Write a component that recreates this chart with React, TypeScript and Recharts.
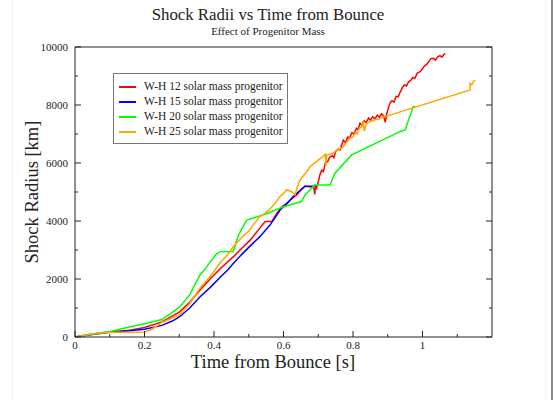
import { LineChart, Line, XAxis, YAxis, Legend } from "recharts";

// shock radius [km] vs time after bounce [s], one list of (t, r) pairs per progenitor
const wh12: [number, number][] = [
  [0, 0], [0.05, 100], [0.1, 170], [0.15, 220], [0.2, 330], [0.25, 520], [0.3, 860],
  [0.33, 1200], [0.36, 1620], [0.39, 2020], [0.42, 2380], [0.456, 2770], [0.48, 3060],
  [0.504, 3340], [0.525, 3650], [0.547, 3980], [0.566, 3980], [0.58, 4250], [0.595, 4490],
  [0.61, 4620], [0.625, 4780], [0.638, 4900], [0.65, 5080], [0.662, 5200], [0.675, 5180],
  [0.685, 5170], [0.688, 5100], [0.69, 4920], [0.692, 5200], [0.695, 5130], [0.7, 5350],
  [0.705, 5600], [0.71, 5750], [0.715, 5700], [0.72, 5990], [0.727, 6050], [0.733, 6200],
  [0.74, 6250], [0.745, 6180], [0.75, 6400], [0.757, 6480], [0.763, 6450], [0.772, 6790],
  [0.778, 6700], [0.785, 6900], [0.79, 6850], [0.797, 7050], [0.803, 7000], [0.81, 7200],
  [0.815, 7150], [0.82, 7370], [0.826, 7300], [0.832, 7450], [0.838, 7400], [0.845, 7550],
  [0.85, 7480], [0.857, 7600], [0.863, 7520], [0.87, 7650], [0.876, 7580], [0.882, 7700],
  [0.888, 7620], [0.893, 7400], [0.897, 7700], [0.902, 7900], [0.906, 8060], [0.912, 8150],
  [0.918, 8100], [0.924, 8300], [0.93, 8280], [0.936, 8450], [0.942, 8600], [0.948, 8700],
  [0.954, 8650], [0.96, 8800], [0.966, 8850], [0.972, 8950], [0.978, 8920], [0.985, 9100],
  [0.993, 9150], [1.0, 9250], [1.006, 9350], [1.012, 9400], [1.018, 9500], [1.024, 9600],
  [1.031, 9610], [1.037, 9550], [1.043, 9650], [1.05, 9700], [1.056, 9650], [1.062, 9750],
  [1.065, 9780],
];

const wh15: [number, number][] = [
  [0, 0], [0.05, 90], [0.1, 160], [0.15, 210], [0.2, 265], [0.25, 400], [0.28, 550],
  [0.3, 690], [0.33, 1000], [0.36, 1390], [0.39, 1720], [0.417, 2050], [0.44, 2320],
  [0.456, 2540], [0.48, 2850], [0.505, 3150], [0.532, 3460], [0.561, 3860], [0.575, 4100],
  [0.59, 4380], [0.61, 4600], [0.628, 4840], [0.645, 5020], [0.662, 5200], [0.69, 5200],
];

const wh20: [number, number][] = [
  [0, 0], [0.05, 100], [0.1, 190], [0.15, 330], [0.2, 460], [0.25, 600], [0.27, 760],
  [0.3, 1020], [0.33, 1450], [0.36, 2150], [0.375, 2350], [0.39, 2600], [0.408, 2880],
  [0.42, 2950], [0.455, 2940], [0.47, 3500], [0.494, 4030], [0.55, 4250], [0.6, 4490],
  [0.652, 4670], [0.662, 4900], [0.69, 5240], [0.734, 5240], [0.748, 5650], [0.796, 6280],
  [0.935, 7080], [0.95, 7140], [0.973, 7940], [0.978, 7960],
];

const wh25: [number, number][] = [
  [0, 0], [0.05, 100], [0.1, 160], [0.15, 165], [0.2, 175], [0.22, 260], [0.25, 500],
  [0.3, 760], [0.33, 1150], [0.36, 1690], [0.39, 2100], [0.417, 2550], [0.44, 2850],
  [0.455, 3110], [0.47, 3300], [0.485, 3500], [0.5, 3650], [0.515, 3900], [0.532, 4150],
  [0.545, 4250], [0.56, 4400], [0.575, 4600], [0.59, 4850], [0.6, 4950], [0.609, 5070],
  [0.615, 5050], [0.625, 5000], [0.633, 4900], [0.638, 5100], [0.643, 5300], [0.65, 5450],
  [0.66, 5600], [0.667, 5700], [0.676, 5870], [0.685, 5950], [0.695, 6050], [0.705, 6150],
  [0.712, 6200], [0.72, 6300], [0.722, 5900], [0.724, 6280], [0.735, 6300], [0.745, 6350],
  [0.755, 6450], [0.765, 6500], [0.772, 6560], [0.78, 6700], [0.79, 6850], [0.8, 6900],
  [0.807, 7050], [0.812, 7000], [0.818, 7200], [0.825, 7250], [0.829, 7450], [0.832, 7100],
  [0.838, 7350], [0.845, 7400], [0.855, 7450], [0.865, 7500], [0.875, 7520], [0.885, 7580],
  [0.892, 7600], [1.137, 8520], [1.137, 8750], [1.142, 8700], [1.146, 8800], [1.151, 8860],
];

const SERIES = [
  { name: "W-H 12 solar mass progenitor", color: "#ff0000", points: wh12 },
  { name: "W-H 15 solar mass progenitor", color: "#0000ff", points: wh15 },
  { name: "W-H 20 solar mass progenitor", color: "#00ff00", points: wh20 },
  { name: "W-H 25 solar mass progenitor", color: "#ffa500", points: wh25 },
];

const X_TICKS = [0, 0.1, 0.2, 0.3, 0.4, 0.5, 0.6, 0.7, 0.8, 0.9, 1.0, 1.1];
const Y_TICKS = [0, 1000, 2000, 3000, 4000, 5000, 6000, 7000, 8000, 9000, 10000];

const FONT = "'Liberation Serif', 'DejaVu Serif', serif";
const FRAME = "#222";

const xMajor = (v: number) => Math.round(v * 10) % 2 === 0;
const yMajor = (v: number) => Math.round(v / 1000) % 2 === 0;
const fmtX = (v: number) => (Math.abs(v - Math.round(v)) < 1e-9 ? String(Math.round(v)) : v.toFixed(1));

// xmgrace-style inward ticks, long for major, short for minor
function BottomTick({ x, y, payload }: any) {
  const major = xMajor(payload.value);
  return (
    <g>
      <line x1={x} y1={y} x2={x} y2={y - (major ? 6 : 3)} stroke={FRAME} />
      {major && (
        <text x={x} y={y + 12} textAnchor="middle" fontSize={11} fontFamily={FONT} fill="#222">
          {fmtX(payload.value)}
        </text>
      )}
    </g>
  );
}

function TopTick({ x, y, payload }: any) {
  const major = xMajor(payload.value);
  return <line x1={x} y1={y} x2={x} y2={y + (major ? 6 : 3)} stroke={FRAME} />;
}

function LeftTick({ x, y, payload }: any) {
  const major = yMajor(payload.value);
  return (
    <g>
      <line x1={x} y1={y} x2={x + (major ? 6 : 3)} y2={y} stroke={FRAME} />
      {major && (
        <text x={x - 7} y={y + 4} textAnchor="end" fontSize={11} fontFamily={FONT} fill="#222">
          {payload.value}
        </text>
      )}
    </g>
  );
}

function RightTick({ x, y, payload }: any) {
  const major = yMajor(payload.value);
  return <line x1={x} y1={y} x2={x - (major ? 6 : 3)} y2={y} stroke={FRAME} />;
}

function LegendBox() {
  return (
    <div
      style={{
        border: "1px solid #777",
        background: "#fff",
        padding: "5px 4px 4px 5px",
        fontFamily: FONT,
        fontSize: 11.5,
        color: "#222",
        lineHeight: "15px",
      }}
    >
      {SERIES.map((s) => (
        <div key={s.name} style={{ display: "flex", alignItems: "center" }}>
          <span style={{ display: "inline-block", width: 17, height: 2, background: s.color, marginRight: 8 }} />
          {s.name}
        </div>
      ))}
    </div>
  );
}

export default function App() {
  return (
    <div style={{ position: "absolute", left: 0, top: 0, width: 553, height: 400, background: "#fff", overflow: "hidden" }}>
      <div style={{ position: "absolute", left: 12, top: 0, width: 1, height: 400, background: "#f2f2f2" }} />
      <div style={{ position: "absolute", left: 551, top: 0, width: 2, height: 400, background: "#8c8c8c" }} />

      <div style={{ position: "absolute", left: 0, width: 536, top: 5, textAlign: "center", fontFamily: FONT, fontSize: 16.8, color: "#222" }}>
        Shock Radii vs Time from Bounce
      </div>
      <div style={{ position: "absolute", left: 0, width: 536, top: 25, textAlign: "center", fontFamily: FONT, fontSize: 11, color: "#222" }}>
        Effect of Progenitor Mass
      </div>

      <LineChart
        width={553}
        height={400}
        margin={{ top: 46, right: 60, bottom: 62, left: 74 }}
        style={{ position: "absolute", left: 0, top: 0 }}
      >
        <XAxis
          dataKey="t"
          type="number"
          domain={[0, 1.2]}
          ticks={X_TICKS}
          interval={0}
          height={1}
          tickSize={0}
          tickMargin={0}
          tickLine={false}
          tick={<BottomTick />}
          stroke={FRAME}
          allowDataOverflow
        />
        <XAxis
          xAxisId="top"
          orientation="top"
          type="number"
          domain={[0, 1.2]}
          ticks={X_TICKS}
          interval={0}
          height={1}
          tickSize={0}
          tickMargin={0}
          tickLine={false}
          tick={<TopTick />}
          stroke={FRAME}
          allowDataOverflow
        />
        <YAxis
          type="number"
          domain={[0, 10000]}
          ticks={Y_TICKS}
          interval={0}
          width={1}
          tickSize={0}
          tickMargin={0}
          tickLine={false}
          tick={<LeftTick />}
          stroke={FRAME}
          allowDataOverflow
        />
        <YAxis
          yAxisId="right"
          orientation="right"
          type="number"
          domain={[0, 10000]}
          ticks={Y_TICKS}
          interval={0}
          width={1}
          tickSize={0}
          tickMargin={0}
          tickLine={false}
          tick={<RightTick />}
          stroke={FRAME}
          allowDataOverflow
        />
        <Legend
          layout="horizontal"
          verticalAlign="middle"
          align="center"
          wrapperStyle={{ left: 113, top: 73, width: "auto" }}
          content={() => <LegendBox />}
        />
        {SERIES.map((s) => (
          <Line
            key={s.name}
            data={s.points.map(([t, r]) => ({ t, r }))}
            dataKey="r"
            name={s.name}
            type="linear"
            stroke={s.color}
            strokeWidth={1.5}
            dot={false}
            activeDot={false}
            isAnimationActive={false}
          />
        ))}
      </LineChart>

      <div style={{ position: "absolute", left: 0, width: 546, top: 353, lineHeight: 1, textAlign: "center", fontFamily: FONT, fontSize: 18.5, color: "#222" }}>
        Time from Bounce [s]
      </div>
      <div
        style={{
          position: "absolute",
          left: 32,
          top: 192,
          transform: "translate(-50%, -50%) rotate(-90deg)",
          whiteSpace: "nowrap",
          fontFamily: FONT,
          fontSize: 18.5,
          color: "#222",
        }}
      >
        Shock Radius [km]
      </div>
    </div>
  );
}
